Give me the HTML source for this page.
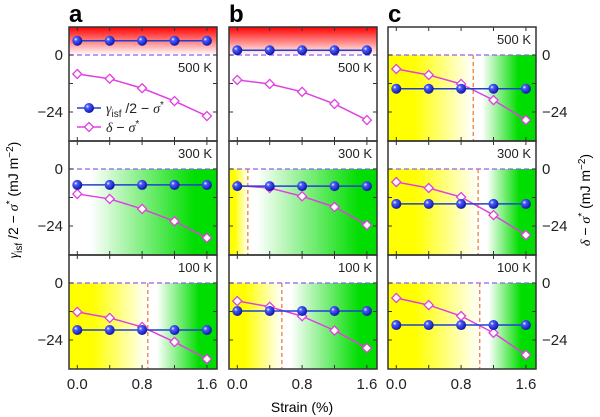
<!DOCTYPE html>
<html><head><meta charset="utf-8"><style>
html,body{margin:0;padding:0;background:#fff;}
svg{display:block;font-family:"Liberation Sans",sans-serif;}
</style></head><body>
<svg id="chart" width="600" height="417" viewBox="0 0 600 417">
<defs>
<radialGradient id="ball" cx="0.35" cy="0.35" r="0.7">
<stop offset="0" stop-color="#ffffff"/><stop offset="0.25" stop-color="#4a5cff"/><stop offset="1" stop-color="#0a10a0"/>
</radialGradient>
<linearGradient id="redfade" x1="0" y1="0" x2="0" y2="1">
<stop offset="0" stop-color="#ff0000"/><stop offset="1" stop-color="#ffffff"/>
</linearGradient>
</defs>
<g id="panels"></g>
<text x="69" y="22" font-size="24" font-weight="bold">a</text>
<text x="229" y="22" font-size="24" font-weight="bold">b</text>
<text x="388" y="22" font-size="24" font-weight="bold">c</text>
<text x="302" y="412" font-size="14" text-anchor="middle">Strain (%)</text>
<text transform="translate(18,200) rotate(-90)" font-size="14" text-anchor="middle"><tspan font-family="Liberation Serif" font-style="italic">γ</tspan><tspan font-size="10" dy="4">isf</tspan><tspan dy="-4"> /2 − </tspan><tspan font-family="Liberation Serif" font-style="italic">σ</tspan><tspan font-size="10" dy="-5">*</tspan><tspan dy="5"> (mJ m</tspan><tspan font-size="10" dy="-5">−2</tspan><tspan dy="5">)</tspan></text>
<text transform="translate(590,200) rotate(-90)" font-size="14" text-anchor="middle"><tspan font-family="Liberation Serif" font-style="italic">δ</tspan><tspan> − </tspan><tspan font-family="Liberation Serif" font-style="italic">σ</tspan><tspan font-size="10" dy="-5">*</tspan><tspan dy="5"> (mJ m</tspan><tspan font-size="10" dy="-5">−2</tspan><tspan dy="5">)</tspan></text>
</svg>
<script>
const strains=[0,0.4,0.8,1.2,1.6];
const xTicks=["0.0","0.8","1.6"];
const yTicks=[0,-24];
const temps=["500 K","300 K","100 K"];
// gamma_isf/2 - sigma* per panel [col][row]
const gammaA=[6,-6.7,-19.8];
const gammaB=[2,-7.2,-11.8];
const gammaC=[-14.2,-14.7,-17.7];
// delta - sigma*
const deltaA=[[-8,-10,-14,-19.4,-25.7],[-10.5,-12.6,-16.8,-22,-29],[-12.2,-14.7,-18.5,-24.8,-32]];
const deltaB=[[-10.5,-12.2,-15.5,-20.6,-27.4],[-7,-8,-11.5,-16,-23.6],[-7.6,-10,-14,-20,-27.4]];
const deltaC=[[-5.9,-8.4,-12.2,-19,-27.4],[-5.5,-8,-11.8,-19.4,-27.8],[-6.3,-9.3,-13.9,-21,-30.3]];
// crossover strain (null = none)
const crossA=[null,null,0.87];
const crossB=[null,0.13,0.55];
const crossC=[0.95,1.01,1.03];
// background type per panel
const bgA=["red","green","cross"];
const bgB=["red","cross","cross"];
const bgC=["cross","cross","cross"];

const NS="http://www.w3.org/2000/svg";
const root=document.getElementById('panels');
const defs=document.querySelector('defs');
const colX=[69,229,388], PW=148, rowY=[27,141,255], PH=114;
const gammas=[gammaA,gammaB,gammaC], deltas=[deltaA,deltaB,deltaC], crosses=[crossA,crossB,crossC], bgs=[bgA,bgB,bgC];
const cols=["a","b","c"];
function mk(t,a,p){const e=document.createElementNS(NS,t);for(const k in a)e.setAttribute(k,a[k]);(p||root).appendChild(e);return e;}
let gid=0;
for(let c=0;c<3;c++){for(let r=0;r<3;r++){
 const x0=colX[c], y0=rowY[r];
 const xs=v=>x0+8.3+v*81;
 const ys=v=>y0+28-v*2.375;
 const g=mk('g',{});
 
 
 const zy=ys(0);
 const bg=bgs[c][r];
 if(bg==="red"){
  mk('rect',{x:x0,y:y0,width:PW,height:zy-y0,fill:'url(#redfade)'},g);
 } else {
  const id='bg'+(gid++);
  const lg=mk('linearGradient',{id:id,x1:0,y1:0,x2:1,y2:0},defs);
  let stops;
  if(bg==="green"){stops=[[0,'#ffffff'],[0.15,'#ffffff'],[0.85,'#00dd00'],[1,'#00dd00']];}
  else{const d=(xs(crosses[c][r])-x0)/PW;
   stops=[[0,'#ffff00'],[Math.max(0.01,d*0.3),'#ffff00'],[d,'#ffffff'],[Math.min(0.97,d+0.06),'#ffffff'],[Math.min(0.99,Math.max(d+0.28,0.88)),'#00dd00'],[1,'#00dd00']];}
  stops.forEach(s=>mk('stop',{offset:s[0],'stop-color':s[1]},lg));
  mk('rect',{x:x0,y:zy,width:PW,height:y0+PH-zy,fill:'url(#'+id+')'},g);
 }
 mk('line',{x1:x0,x2:x0+PW,y1:zy,y2:zy,stroke:'#9060f0','stroke-width':1.3,'stroke-dasharray':'5,3'},g);
 const cr=crosses[c][r];
 if(cr!==null){const cl=mk('line',{x1:xs(cr),x2:xs(cr),y1:zy,y2:y0+PH,stroke:'#f08030','stroke-width':1.3,'stroke-dasharray':'4,3'},g);
  }
 strains.forEach(s=>{mk('line',{x1:xs(s),x2:xs(s),y1:y0,y2:y0+4,stroke:'#333'},g);mk('line',{x1:xs(s),x2:xs(s),y1:y0+PH,y2:y0+PH-4,stroke:'#333'},g);});
 [0,-12,-24].forEach(v=>{mk('line',{x1:x0,x2:x0+4,y1:ys(v),y2:ys(v),stroke:'#333'},g);mk('line',{x1:x0+PW,x2:x0+PW-4,y1:ys(v),y2:ys(v),stroke:'#333'},g);});
 const ty=(c<2&&r===0)?zy+17:y0+17;
 const tl=mk('text',{x:x0+PW-5,y:ty,'font-size':13,'text-anchor':'end',fill:'#222'},g);tl.textContent=temps[r];
 
 const dv=deltas[c][r];
 const dl=mk('polyline',{points:strains.map((s,i)=>xs(s)+','+ys(dv[i])).join(' '),fill:'none',stroke:'#e040e0','stroke-width':1.5},g);
 
 const gv=gammas[c][r];
 const gl=mk('polyline',{points:strains.map(s=>xs(s)+','+ys(gv)).join(' '),fill:'none',stroke:'#2040d0','stroke-width':1.5},g);
 
 strains.forEach((s,i)=>{
  const px=xs(s),py=ys(dv[i]);
  const dm=mk('polygon',{points:`${px},${py-4.5} ${px+4.5},${py} ${px},${py+4.5} ${px-4.5},${py}`,fill:'#fff',stroke:'#e040e0','stroke-width':1.3},g);
  
 });
 strains.forEach(s=>{
  const b=mk('circle',{cx:xs(s),cy:ys(gv),r:5,fill:'url(#ball)'},g);
  
 });
 mk('rect',{x:x0,y:y0,width:PW,height:PH,fill:'none',stroke:'#333','stroke-width':1.5},g);
 if(c===0||c===2){yTicks.forEach(v=>{const t=mk('text',{x:c===0?x0-6:x0+PW+6,y:ys(v)+5,'font-size':15,'text-anchor':c===0?'end':'start',fill:'#222'},g);t.textContent=v===0?'0':'−24';
  });}
 if(r===2){xTicks.forEach(v=>{const t=mk('text',{x:xs(parseFloat(v)),y:y0+PH+20,'font-size':15,'text-anchor':'middle',fill:'#222'},g);t.textContent=v;
  });}
}}
const lg=mk('g',{});


mk('line',{x1:77,x2:101,y1:108,y2:108,stroke:'#2040d0','stroke-width':1.5},lg);
mk('circle',{cx:89,cy:108,r:5,fill:'url(#ball)'},lg);
const t1=mk('text',{x:106,y:113,'font-size':14,fill:'#222'},lg);
t1.innerHTML='<tspan font-family="Liberation Serif" font-style="italic">γ</tspan><tspan font-size="10" dy="4">isf</tspan><tspan dy="-4"> /2 − </tspan><tspan font-family="Liberation Serif" font-style="italic">σ</tspan><tspan font-size="10" dy="-5">*</tspan>';


mk('line',{x1:77,x2:101,y1:127,y2:127,stroke:'#e040e0','stroke-width':1.5},lg);
mk('polygon',{points:'89,122.5 93.5,127 89,131.5 84.5,127',fill:'#fff',stroke:'#e040e0','stroke-width':1.3},lg);
const t2=mk('text',{x:106,y:132,'font-size':14,fill:'#222'},lg);
t2.innerHTML='<tspan font-family="Liberation Serif" font-style="italic">δ</tspan> − <tspan font-family="Liberation Serif" font-style="italic">σ</tspan><tspan font-size="10" dy="-5">*</tspan>';


</script>
</body></html>
